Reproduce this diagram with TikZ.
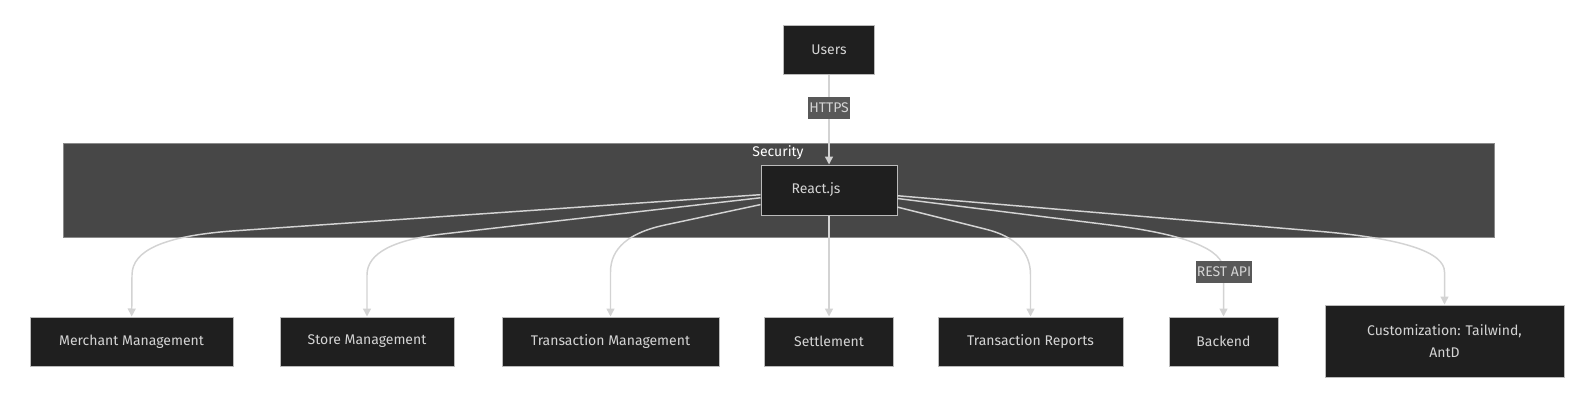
\documentclass[tikz,border=0pt]{standalone}
\usepackage{fontspec}
\setmainfont{Fira Sans}
\usetikzlibrary{arrows.meta}
\definecolor{boxfill}{HTML}{1F1F1F}
\definecolor{boxline}{HTML}{BBBBBB}
\definecolor{boxtext}{HTML}{D4D4D4}
\definecolor{clusterfill}{HTML}{474747}
\definecolor{clusterline}{HTML}{8A8A8A}
\definecolor{edgecol}{HTML}{D3D3D3}
\definecolor{lblfill}{HTML}{585858}
\begin{document}
\begin{tikzpicture}[x=0.75pt,y=-0.75pt,
  every node/.style={font=\fontsize{10.5pt}{16.5pt}\selectfont},
  box/.style 2 args={draw=boxline,line width=0.75pt,fill=boxfill,text=boxtext,
    minimum width=#1,minimum height=#2,inner sep=0pt,align=center},
  elabel/.style 2 args={fill=lblfill,text=boxtext,inner sep=0pt,
    minimum width=#1,minimum height=#2},
  edge/.style={draw=edgecol,line width=1.1pt,-{Triangle[length=6pt,width=6pt]}}]
\useasboundingbox (0,0) rectangle (1594,418);
% cluster
\node[draw=clusterline,line width=0.5pt,fill=clusterfill,minimum width=1073.25pt,
  minimum height=70.5pt,inner sep=0pt] (security) at (778.5,190) {};
\node[text=white,inner sep=0pt] (seclabel) at (778,153) {Security};
% nodes
\node[box={68.25pt}{36.75pt}] (users) at (829,49.5) {Users};
\node[box={102pt}{37.5pt}] (react) at (829,190) {React.js\hspace*{19.5pt}};
\node[box={152.25pt}{36.75pt}] (merch) at (131.5,341.5) {Merchant Management};
\node[box={130.5pt}{36.75pt}] (store) at (367,341.5) {Store Management};
\node[box={162.75pt}{36.75pt}] (tmgmt) at (610.5,341.5) {Transaction Management};
\node[box={96.75pt}{36.75pt}] (settle) at (829,341.5) {Settlement};
\node[box={138.75pt}{36.75pt}] (trep) at (1030.5,341.5) {Transaction Reports};
\node[box={81.75pt}{36.75pt}] (backend) at (1223.5,341.5) {Backend};
\node[box={179.25pt}{54pt}] (custom) at (1444.5,341) {Customization: Tailwind,\\AntD};
% edges
\draw[edge] (users) -- (react);
\draw[edge] (react) -- (232,231) .. controls (165,236) and (132,250) .. (132,275) -- (merch);
\draw[edge] (react) -- (447,233.5) .. controls (393.7,239.2) and (367,253) .. (367,275) -- (store);
\draw[edge] (react) -- (665,225) .. controls (628.7,232.7) and (610.5,248.3) .. (610.5,272) -- (tmgmt);
\draw[edge] (react) -- (settle);
\draw[edge] (react) -- (985,229) .. controls (1015.3,236.3) and (1030.5,251.7) .. (1030.5,275) -- (trep);
\draw[edge] (react) -- (1110,225) .. controls (1185.7,234.3) and (1223.5,249.3) .. (1223.5,270) -- (backend);
\draw[edge] (react) -- (1320,231.4) .. controls (1403,238.5) and (1444.5,252) .. (1444.5,272) -- (custom);
% edge labels
\node[elabel={31.5pt}{16.5pt}] (https) at (829,108) {HTTPS};
\node[elabel={42pt}{16.5pt}] (rest) at (1224,272) {REST API};
\end{tikzpicture}
\end{document}
